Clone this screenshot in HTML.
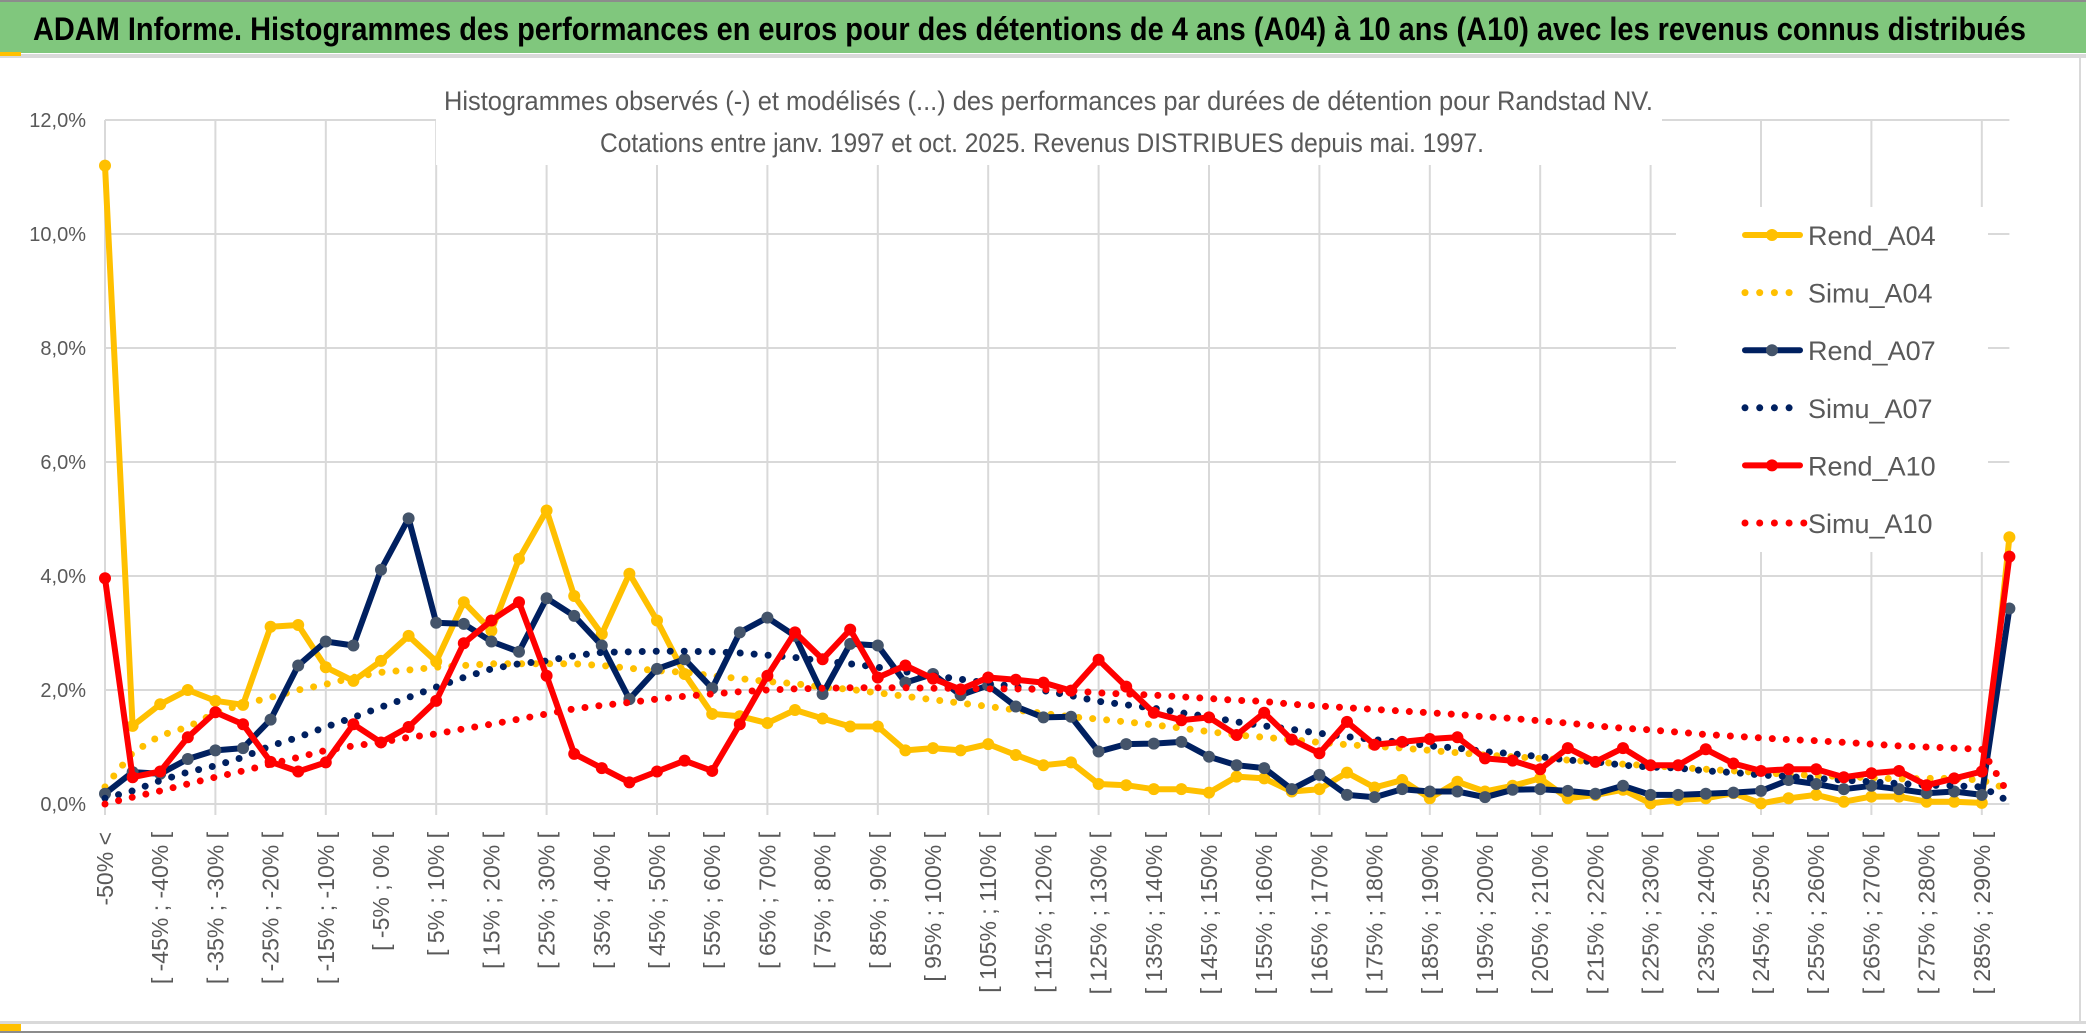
<!DOCTYPE html>
<html><head><meta charset="utf-8">
<style>
html,body{margin:0;padding:0;background:#fff;}
svg{display:block;font-family:"Liberation Sans",sans-serif;}
</style></head>
<body>
<svg id="chart" width="2086" height="1033" viewBox="0 0 2086 1033" xmlns="http://www.w3.org/2000/svg">
<rect x="0" y="0" width="2086" height="1033" fill="#fff"/>
<rect x="0" y="2" width="2086" height="51" fill="#80c77d"/>
<line x1="0" y1="1" x2="2086" y2="1" stroke="#8c8c8c" stroke-width="2"/>
<rect x="0" y="54" width="2086" height="4" fill="#d9d9d9"/>
<rect x="0" y="52" width="21" height="4" fill="#ffc000"/>
<line x1="2080" y1="58" x2="2080" y2="1022" stroke="#d9d9d9" stroke-width="2"/>
<rect x="0" y="1021" width="2086" height="3" fill="#d9d9d9"/>
<rect x="0" y="1024" width="21" height="7" fill="#ffc000"/>
<line x1="0" y1="1032" x2="2086" y2="1032" stroke="#8c8c8c" stroke-width="2"/>
<text x="33" y="40" font-size="32" font-weight="bold" fill="#000" textLength="1993" lengthAdjust="spacingAndGlyphs">ADAM Informe. Histogrammes des performances en euros pour des détentions de 4 ans (A04) à 10 ans (A10) avec les revenus connus distribués</text>
<g id="grid"></g>
<rect x="436" y="75" width="1226" height="90" fill="#fff"/>
<text x="444" y="110" font-size="27" fill="#595959" textLength="1209" lengthAdjust="spacingAndGlyphs">Histogrammes observés (-) et modélisés (...) des performances par durées de détention pour Randstad NV.</text>
<text x="600" y="152" font-size="27" fill="#595959" textLength="884" lengthAdjust="spacingAndGlyphs">Cotations entre janv. 1997 et oct. 2025. Revenus DISTRIBUES depuis mai. 1997.</text>
<g id="yaxis"></g>
<g id="xaxis"></g>
<g id="series"></g>
<g id="legend"></g>
</svg>
<script>
const categories = (function(){const a=["-50% <"];for(let i=1;i<70;i++){const lo=-50+5*(i-1);a.push("[ "+lo+"% ; "+(lo+5)+"% [");}return a;})();
const yTicks = [0,2,4,6,8,10,12];
const yTickLabels = ["0,0%","2,0%","4,0%","6,0%","8,0%","10,0%","12,0%"];
const rendA04 = [11.2,1.37,1.75,2.0,1.81,1.74,3.11,3.14,2.40,2.16,2.51,2.95,2.50,3.54,3.04,4.30,5.15,3.65,2.98,4.04,3.22,2.28,1.58,1.54,1.42,1.65,1.50,1.36,1.36,0.94,0.98,0.94,1.05,0.86,0.68,0.73,0.35,0.33,0.26,0.26,0.20,0.48,0.45,0.22,0.26,0.55,0.29,0.42,0.10,0.39,0.22,0.32,0.45,0.10,0.16,0.25,0.01,0.07,0.10,0.19,0.01,0.10,0.16,0.04,0.13,0.13,0.04,0.04,0.02,4.68];
const simuA04 = [0.3,0.9,1.2,1.35,1.6,1.75,1.87,2.0,2.1,2.22,2.31,2.35,2.4,2.43,2.46,2.46,2.46,2.46,2.43,2.38,2.34,2.31,2.25,2.20,2.15,2.11,2.05,2.01,1.95,1.89,1.83,1.77,1.71,1.65,1.59,1.53,1.49,1.44,1.39,1.33,1.27,1.21,1.17,1.13,1.08,1.04,1.01,0.98,0.94,0.90,0.86,0.83,0.80,0.77,0.74,0.70,0.67,0.64,0.61,0.58,0.55,0.52,0.50,0.48,0.46,0.44,0.45,0.45,0.42,0.25];
const rendA07 = [0.18,0.56,0.53,0.79,0.94,0.98,1.48,2.43,2.85,2.78,4.11,5.01,3.18,3.16,2.85,2.67,3.61,3.30,2.78,1.84,2.37,2.54,2.03,3.01,3.27,2.95,1.93,2.81,2.78,2.13,2.28,1.91,2.08,1.71,1.52,1.53,0.92,1.05,1.06,1.09,0.83,0.68,0.63,0.26,0.51,0.16,0.12,0.26,0.22,0.22,0.12,0.25,0.26,0.23,0.18,0.32,0.16,0.16,0.18,0.20,0.23,0.42,0.35,0.26,0.32,0.26,0.19,0.22,0.16,3.43];
const simuA07 = [0.1,0.23,0.41,0.56,0.67,0.82,1.02,1.17,1.35,1.52,1.70,1.87,2.05,2.22,2.37,2.46,2.51,2.60,2.66,2.67,2.68,2.68,2.67,2.65,2.61,2.57,2.51,2.46,2.40,2.32,2.25,2.19,2.12,2.06,1.99,1.90,1.80,1.74,1.68,1.60,1.53,1.44,1.37,1.31,1.24,1.18,1.13,1.08,1.02,0.98,0.92,0.88,0.83,0.77,0.74,0.68,0.65,0.63,0.58,0.55,0.51,0.48,0.45,0.42,0.39,0.36,0.33,0.32,0.30,0.04];
const rendA10 = [3.96,0.47,0.57,1.17,1.61,1.40,0.74,0.57,0.73,1.40,1.08,1.35,1.81,2.82,3.22,3.54,2.25,0.88,0.63,0.38,0.57,0.76,0.58,1.40,2.25,3.01,2.54,3.06,2.22,2.43,2.20,2.01,2.22,2.18,2.13,1.99,2.53,2.06,1.60,1.47,1.52,1.21,1.60,1.13,0.89,1.44,1.04,1.09,1.14,1.17,0.80,0.76,0.61,0.98,0.74,0.98,0.68,0.68,0.96,0.71,0.58,0.61,0.61,0.47,0.54,0.58,0.33,0.45,0.57,4.34];
const simuA10 = [0.0,0.12,0.23,0.35,0.47,0.58,0.70,0.82,0.94,1.02,1.08,1.17,1.23,1.32,1.40,1.49,1.58,1.67,1.73,1.78,1.84,1.89,1.93,1.97,2.0,2.02,2.03,2.04,2.04,2.04,2.03,2.03,2.02,2.02,2.01,1.99,1.95,1.93,1.91,1.88,1.85,1.82,1.80,1.75,1.72,1.69,1.66,1.63,1.60,1.57,1.53,1.50,1.46,1.42,1.37,1.33,1.30,1.26,1.22,1.19,1.16,1.13,1.11,1.08,1.05,1.02,1.00,0.98,0.96,0.15];
const seriesNames = ["Rend_A04","Simu_A04","Rend_A07","Simu_A07","Rend_A10","Simu_A10"];

const NS="http://www.w3.org/2000/svg";
const X0=105, DX=27.6, Y0=804, YTOP=120, YMAX=12;
function xs(i){return X0+i*DX;}
function ys(v){return Y0-(v/YMAX)*(Y0-YTOP);}
function mk(tag,attrs,parent){const e=document.createElementNS(NS,tag);for(const k in attrs)e.setAttribute(k,attrs[k]);parent.appendChild(e);return e;}

const grid=document.getElementById('grid');
const xEnd=xs(categories.length-1);
yTicks.forEach((t,k)=>{
  const l=mk('line',{x1:X0,x2:xEnd,y1:ys(t),y2:ys(t),stroke:'#d9d9d9','stroke-width':2},grid);
  
  
});
for(let i=0;i<categories.length;i+=4){
  const l=mk('line',{x1:xs(i),x2:xs(i),y1:YTOP,y2:Y0+11,stroke:'#d9d9d9','stroke-width':2},grid);
  
  
}
const yaxis=document.getElementById('yaxis');
yTicks.forEach((t,k)=>{
  const tx=mk('text',{x:86,y:ys(t)+7,'font-size':20,fill:'#595959','text-anchor':'end'},yaxis);
  tx.textContent=yTickLabels[k];
  
  
});
const xaxis=document.getElementById('xaxis');
for(let i=0;i<categories.length;i+=2){
  const x=xs(i)+8, y=832;
  const tx=mk('text',{x:x,y:y,'font-size':23,fill:'#595959','text-anchor':'end',transform:'rotate(-90 '+x+' '+y+')'},xaxis);
  tx.textContent=categories[i];
  
  
}
const sg=document.getElementById('series');
function pts(arr){return arr.map((v,i)=>xs(i).toFixed(1)+','+ys(v).toFixed(1)).join(' ');}
function rend(arr,color,mcol,name){
  const g=mk('g',{},sg);
  
  
  const p=mk('polyline',{points:pts(arr),fill:'none',stroke:color,'stroke-width':6,'stroke-linejoin':'round'},g);
  
  
  arr.forEach((v,i)=>{
    const c=mk('circle',{cx:xs(i),cy:ys(v),r:6,fill:mcol},g);
    
    
  });
}
function simu(arr,color,name){
  const p=mk('polyline',{points:pts(arr),fill:'none',stroke:color,'stroke-width':7,'stroke-linecap':'round','stroke-dasharray':'0 14'},sg);
  
  
}
rend(rendA04,'#ffc000','#ffc000','rend-a04');
simu(simuA04,'#ffc000','simu-a04');
rend(rendA07,'#002060','#44546a','rend-a07');
simu(simuA07,'#002060','simu-a07');
rend(rendA10,'#ff0000','#ff0000','rend-a10');
simu(simuA10,'#ff0000','simu-a10');

const lg=document.getElementById('legend');
const lb=mk('rect',{x:1676,y:207,width:312,height:345,fill:'#fff'},lg);


const lcols=['#ffc000','#ffc000','#002060','#002060','#ff0000','#ff0000'];
const lmark=['#ffc000',null,'#44546a',null,'#ff0000',null];
seriesNames.forEach((n,k)=>{
  const y=235+k*57.6;
  const g=mk('g',{},lg);
  
  
  if(lmark[k]){
    mk('line',{x1:1745,x2:1800,y1:y,y2:y,stroke:lcols[k],'stroke-width':6,'stroke-linecap':'round'},g);
    mk('circle',{cx:1772,cy:y,r:6,fill:lmark[k]},g);
  } else {
    const n2 = k===5?5:4;
    for(let d=0;d<n2;d++) mk('circle',{cx:1745+d*14.7,cy:y,r:3.5,fill:lcols[k]},g);
  }
  const t=mk('text',{x:1808,y:y+10,'font-size':27,fill:'#595959'},g);
  t.textContent=n;
  
  
});
</script>
</body></html>
